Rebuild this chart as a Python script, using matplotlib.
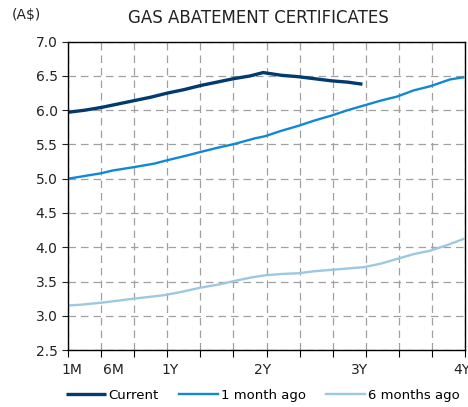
import matplotlib
matplotlib.use("Agg")
import matplotlib.pyplot as plt

# x positions in grid units (12 equal steps from 1M to 4Y)
current_x = [0, 0.5, 1, 1.5, 2, 2.5, 3, 3.5, 4, 4.5, 5, 5.5, 5.9, 6.45, 6.95, 7.45, 7.95, 8.45, 8.9]
current_y = [5.97, 6.00, 6.04, 6.09, 6.14, 6.19, 6.25, 6.30, 6.36, 6.41, 6.46, 6.50, 6.55, 6.51, 6.49, 6.46, 6.43, 6.41, 6.38]

month1_x = [0, 0.5, 1, 1.35, 2, 2.6, 3, 3.6, 4, 4.5, 5.05, 5.65, 5.95, 6.45, 6.95, 7.45, 7.95, 8.45, 8.95,
            9.45, 9.95, 10.45, 10.95, 11.55, 11.95]
month1_y = [5.00, 5.04, 5.08, 5.12, 5.17, 5.22, 5.27, 5.34, 5.39, 5.45, 5.51, 5.59, 5.62, 5.70, 5.77, 5.85, 5.92, 6.00, 6.07,
            6.14, 6.20, 6.29, 6.35, 6.45, 6.48]

month6_x = [0, 0.35, 1, 1.5, 2, 2.9, 3.45, 4, 4.6, 5.05, 5.55, 5.95, 6.45, 6.95, 7.45, 7.95, 8.45, 8.95,
            9.45, 9.95, 10.45, 10.95, 11.45, 11.95]
month6_y = [3.15, 3.16, 3.19, 3.22, 3.25, 3.30, 3.35, 3.41, 3.46, 3.51, 3.56, 3.59, 3.61, 3.62, 3.65, 3.67, 3.69, 3.71,
            3.76, 3.83, 3.90, 3.95, 4.03, 4.12]

tick_labels = ["1M", "6M", "1Y", "2Y", "3Y", "4Y"]
tick_label_pos = [0.12, 1.36, 3.1, 5.88, 8.82, 11.9]

fig = plt.figure(figsize=(4.68, 4.07), dpi=100)
ax = fig.add_axes([0.1453, 0.14, 0.8483, 0.7575])

ax.plot(current_x, current_y, color="#003a6e", lw=2.4, label="Current", solid_capstyle="butt")
ax.plot(month1_x, month1_y, color="#1088d6", lw=1.7, label="1 month ago")
ax.plot(month6_x, month6_y, color="#9cc8e2", lw=1.7, label="6 months ago")

ax.set_xlim(0, 12)
ax.set_ylim(2.5, 7.0)
ax.set_yticks([2.5, 3.0, 3.5, 4.0, 4.5, 5.0, 5.5, 6.0, 6.5, 7.0])
ax.set_yticklabels(["%.1f" % v for v in ax.get_yticks()])

# gridlines at every step, labels at their own spots
ax.set_xticks(range(13))
ax.set_xticklabels([""] * 13)
ax.set_xticks(tick_label_pos, minor=True)
ax.set_xticklabels(tick_labels, minor=True)
ax.tick_params(axis="x", which="minor", length=0, pad=9, labelsize=10, colors="#222222")
ax.tick_params(axis="x", which="major", length=5, width=0.8, direction="out")
ax.tick_params(axis="y", length=4, width=0.8, labelsize=10, colors="#222222")

ax.grid(True, which="major", color="#a0a0a0", linestyle=(0, (6, 4)), linewidth=0.9)
ax.set_axisbelow(True)
for s in ax.spines.values():
    s.set_color("black")
    s.set_linewidth(1.0)

fig.text(0.552, 0.957, "GAS ABATEMENT CERTIFICATES", ha="center", va="center", fontsize=12, color="#222222")
fig.text(0.025, 0.962, "(A$)", ha="left", va="center", fontsize=10, color="#222222")

fig.legend(loc="center", bbox_to_anchor=(0.562, 0.028), ncol=3, frameon=False, fontsize=9.5,
           handlelength=3.0, handletextpad=0.2, columnspacing=1.5, borderaxespad=0)

fig.savefig("out.png", dpi=100)
